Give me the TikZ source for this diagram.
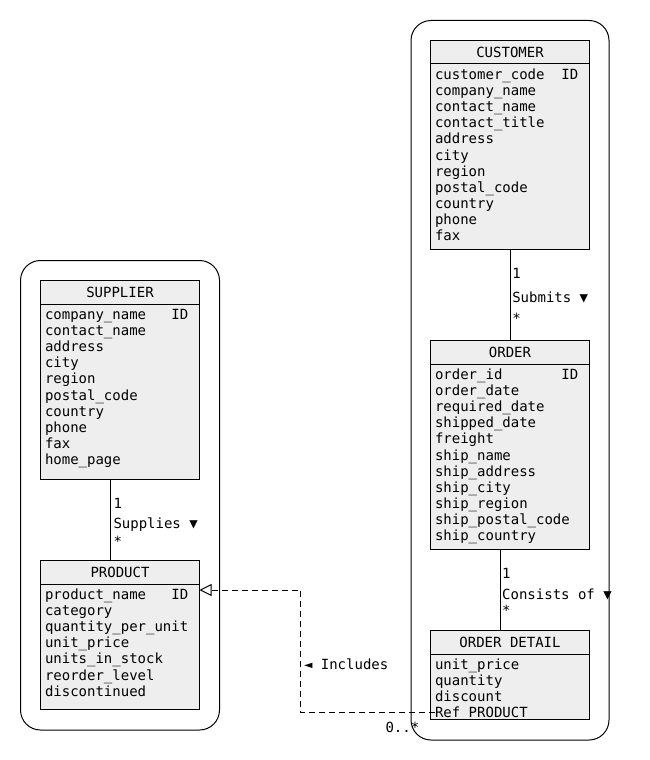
\documentclass[tikz,border=0pt]{standalone}
\usepackage{fontspec}
\newfontfamily\mono{DejaVu Sans Mono}
\usetikzlibrary{arrows.meta}
\definecolor{boxfill}{HTML}{EEEEEE}
\tikzset{
  wire/.style={draw=black, line width=1pt},
  outerbox/.style={wire, rounded corners=20pt},
  entity/.style={wire, fill=boxfill, rectangle, inner sep=0pt, outer sep=0pt,
    minimum width=159pt, anchor=north west},
  txt/.style={inner sep=0pt, outer sep=0pt, anchor=base west,
    font=\mono\fontsize{14pt}{16pt}\selectfont},
  ttl/.style={txt, anchor=base},
  dep/.style={wire, dash pattern=on 6pt off 4pt},
}
\newcommand\entitybox[6]{%
  \node[entity, minimum height=#4pt] (#1) at (#2,#3) {};
  \draw[wire] ([yshift=-23.5pt]#1.north west) -- ([yshift=-23.5pt]#1.north east);
  \node[ttl] (#1-title) at ([yshift=-17pt]#1.north) {#5};
  \foreach \rowtext [count=\i from 0] in {#6} {
    \node[txt] (#1-\i) at ([xshift=4.5pt, yshift=-38.8pt-16.15pt*\i]#1.north west) {\rowtext};
  }
}
\begin{document}
\begin{tikzpicture}[x=1pt, y=-1pt]
\useasboundingbox (0,0) rectangle (650,760);
% outer groups
\draw[outerbox] (20.5,260.5) rectangle (219.5,730);
\draw[outerbox] (411,20.5) rectangle (609,740);
% entities
\entitybox{supplier}{40.5}{280.5}{199}{SUPPLIER}{company\_name, contact\_name, address, city, region, postal\_code, country, phone, fax, home\_page}
\node[txt] (supplier-id) at ([xshift=130.95pt, yshift=-38.8pt]supplier.north west) {ID};
\entitybox{product}{40.5}{560.5}{149}{PRODUCT}{product\_name, category, quantity\_per\_unit, unit\_price, units\_in\_stock, reorder\_level, discontinued}
\node[txt] (product-id) at ([xshift=130.95pt, yshift=-38.8pt]product.north west) {ID};
\entitybox{customer}{430.5}{40.5}{208.5}{CUSTOMER}{customer\_code, company\_name, contact\_name, contact\_title, address, city, region, postal\_code, country, phone, fax}
\node[txt] (customer-id) at ([xshift=130.95pt, yshift=-38.8pt]customer.north west) {ID};
\entitybox{order}{430.5}{340.5}{208.5}{ORDER}{order\_id, order\_date, required\_date, shipped\_date, freight, ship\_name, ship\_address, ship\_city, ship\_region, ship\_postal\_code, ship\_country}
\node[txt] (order-id) at ([xshift=130.95pt, yshift=-38.8pt]order.north west) {ID};
\entitybox{orderdetail}{430.5}{630.5}{88.5}{ORDER DETAIL}{unit\_price, quantity, discount, Ref PRODUCT}
% associations
\draw[wire] ([xshift=-9.5pt]supplier.south) -- ([xshift=-9.5pt]product.north);
\node[txt] (sup-m1) at (113.5,508.7) {1};
\node[txt] (sup-lbl) at (113.5,528.3) {Supplies ▼};
\node[txt] (sup-m2) at (113.5,546.9) {*};
\draw[wire] (customer.south) -- (order.north);
\node[txt] (sub-m1) at (512.3,278) {1};
\node[txt] (sub-lbl) at (512.3,302.3) {Submits ▼};
\node[txt] (sub-m2) at (512.3,323.5) {*};
\draw[wire] ([xshift=-9.5pt]order.south) -- ([xshift=-9.5pt]orderdetail.north);
\node[txt] (con-m1) at (502.2,578.3) {1};
\node[txt] (con-lbl) at (502.2,599) {Consists of ▼};
\node[txt] (con-m2) at (502.2,615.2) {*};
% dependency
\draw[dep, -{Triangle[open, length=12pt, width=12pt]}] (orderdetail-3.west) -- ++(-134.5,0) |- ([yshift=-29.5pt]product.north east);
\node[txt] (inc-lbl) at (304,669.3) {◄ Includes};
\node[txt] (inc-m) at (385.5,732.7) {0..*};
\end{tikzpicture}
\end{document}
